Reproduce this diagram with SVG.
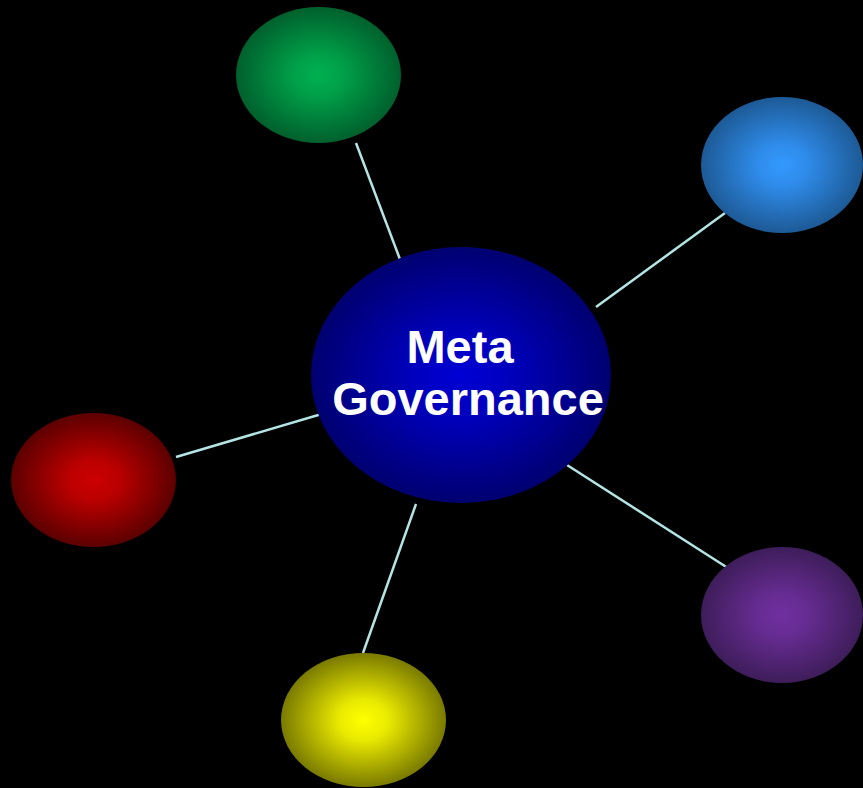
<svg xmlns="http://www.w3.org/2000/svg" width="863" height="788" viewBox="0 0 863 788">
<defs>
<radialGradient id="gC" cx="50%" cy="50%" r="50%"><stop offset="0" stop-color="#0000d4"/><stop offset="0.3" stop-color="#0000c0"/><stop offset="1" stop-color="#000070"/></radialGradient>
<radialGradient id="gG" cx="50%" cy="50%" r="50%"><stop offset="0" stop-color="#00b050"/><stop offset="0.3" stop-color="#00a049"/><stop offset="1" stop-color="#00602c"/></radialGradient>
<radialGradient id="gB" cx="50%" cy="50%" r="50%"><stop offset="0" stop-color="#3399ff"/><stop offset="0.3" stop-color="#2f8ceb"/><stop offset="1" stop-color="#1d5a96"/></radialGradient>
<radialGradient id="gR" cx="50%" cy="50%" r="50%"><stop offset="0" stop-color="#cc0000"/><stop offset="0.3" stop-color="#bb0000"/><stop offset="1" stop-color="#5c0000"/></radialGradient>
<radialGradient id="gY" cx="50%" cy="50%" r="50%"><stop offset="0" stop-color="#ffff00"/><stop offset="0.3" stop-color="#eaea00"/><stop offset="1" stop-color="#7a7a00"/></radialGradient>
<radialGradient id="gP" cx="50%" cy="50%" r="50%"><stop offset="0" stop-color="#7030a0"/><stop offset="0.3" stop-color="#672c93"/><stop offset="1" stop-color="#3e1d5a"/></radialGradient>
<style>
.conn line{stroke:#b4e4e4;stroke-width:2.5;}
.lbl{font-family:"Liberation Sans",Arial,sans-serif;font-weight:bold;font-size:47px;fill:#ffffff;text-anchor:middle;}
</style>
</defs>
<rect width="863" height="788" fill="#000000"/>
<g id="connectors" class="conn">
<line x1="356" y1="143" x2="401" y2="262"/>
<line x1="725" y1="213" x2="596" y2="307"/>
<line x1="176" y1="457" x2="325" y2="413"/>
<line x1="363" y1="653" x2="416" y2="504"/>
<line x1="731" y1="570" x2="567" y2="465"/>
</g>
<g id="node-green"><ellipse cx="318.5" cy="75" rx="82.5" ry="68" fill="url(#gG)"/></g>
<g id="node-blue"><ellipse cx="782" cy="165" rx="81" ry="68" fill="url(#gB)"/></g>
<g id="node-red"><ellipse cx="93.5" cy="480" rx="82.5" ry="67" fill="url(#gR)"/></g>
<g id="node-yellow"><ellipse cx="363.5" cy="720" rx="82.5" ry="67" fill="url(#gY)"/></g>
<g id="node-purple"><ellipse cx="782" cy="615" rx="81" ry="68" fill="url(#gP)"/></g>
<g id="node-center">
<ellipse cx="461" cy="375" rx="150" ry="128" fill="url(#gC)"/>
<text class="lbl" x="460" y="363">Meta</text>
<text class="lbl" x="468" y="415">Governance</text>
</g>
</svg>
